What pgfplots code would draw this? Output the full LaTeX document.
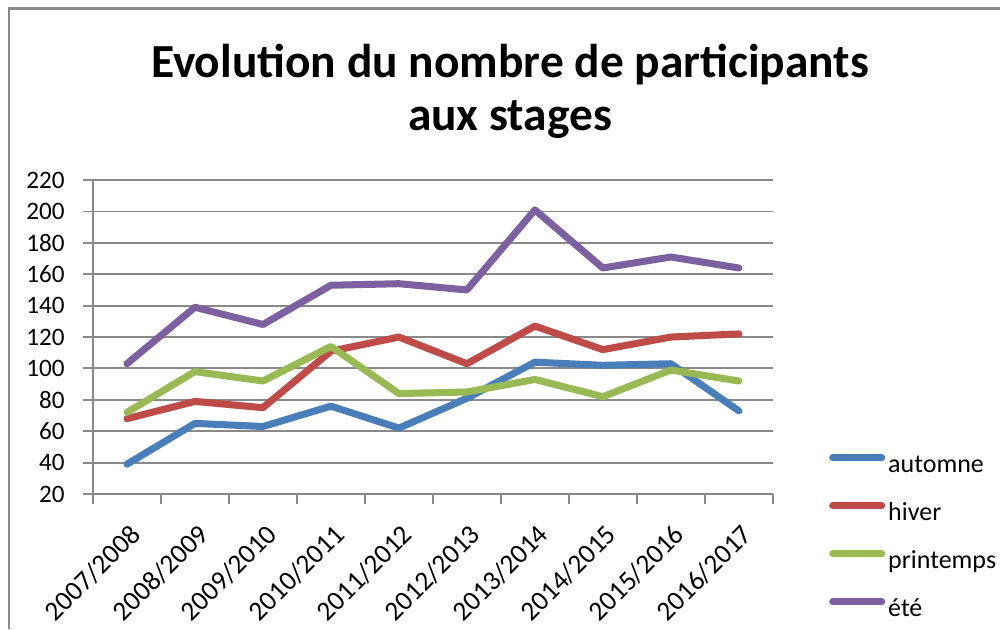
\documentclass[border=0pt]{standalone}
\usepackage{pgfplots}
\pgfplotsset{compat=1.18}
\usepackage{fontspec}
\setmainfont{Carlito}
\definecolor{cauto}{HTML}{4A7EBB}
\definecolor{chiver}{HTML}{BE4B48}
\definecolor{cprint}{HTML}{98B954}
\definecolor{cete}{HTML}{7D60A0}
\definecolor{gridc}{HTML}{898989}
\begin{document}
\begin{tikzpicture}[x=0.02cm,y=0.02cm]
\path[use as bounding box] (0,0) rectangle (1000,629);
\clip (0,0) rectangle (1000,629);
\draw[gridc, line width=1.3pt] (9,0) -- (9,620.5) -- (1000,620.5);
\node[font=\fontsize{27}{30.2}\selectfont\bfseries, align=center, anchor=base] at (510,498)
  {Evolution du nombre de participants\\aux stages};
\begin{axis}[
  at={(1.86cm,2.7cm)}, anchor=south west,
  scale only axis, width=13.6cm, height=6.28cm,
  xmin=0.5, xmax=10.5, ymin=20, ymax=220,
  ytick={20,40,...,220},
  xtick={0.5,1.5,...,10.5},
  x tick label as interval=true,
  xticklabels={2007/2008,2008/2009,2009/2010,2010/2011,2011/2012,2012/2013,2013/2014,2014/2015,2015/2016,2016/2017},
  axis lines*=left,
  axis line style={gridc, line width=1.1pt},
  tick style={gridc, line width=1.1pt},
  major tick length=0.2cm,
  tick align=outside,
  ymajorgrids, grid style={gridc, line width=1.1pt},
  tick label style={font=\fontsize{14.3}{16}\selectfont, text=black},
  /pgf/number format/assume math mode=true,
  yticklabel style={inner sep=0pt, xshift=-0.36cm},
  xticklabel style={font=\fontsize{15.6}{17}\selectfont, rotate=45, anchor=north east, inner sep=0pt, xshift=-0.24cm, yshift=-0.28cm},
  every axis plot/.append style={line width=4pt, line cap=round, line join=round},
  legend image code/.code={\draw[#1] (0cm,0.16cm) -- (0.98cm,0.16cm);},
  legend style={at={(1.0824,0.1274)}, anchor=north west, draw=none, fill=none,
    inner sep=0pt, row sep=0.5cm, column sep=0.06cm,
    font=\fontsize{14.8}{16}\selectfont,
    nodes={inner sep=0pt, text height=0.36cm, text depth=0.1cm}},
  legend cell align=left,
  clip=false,
]
\addplot[cauto] coordinates {(1,39) (2,65) (3,63) (4,76) (5,62) (6,81) (7,104) (8,102) (9,103) (10,73)};
\addlegendentry{automne}
\addplot[chiver] coordinates {(1,68) (2,79) (3,75) (4,111) (5,120) (6,103) (7,127) (8,112) (9,120) (10,122)};
\addlegendentry{hiver}
\addplot[cprint] coordinates {(1,72) (2,98) (3,92) (4,114) (5,84) (6,85) (7,93) (8,82) (9,99) (10,92)};
\addlegendentry{printemps}
\addplot[cete] coordinates {(1,103) (2,139) (3,128) (4,153) (5,154) (6,150) (7,201) (8,164) (9,171) (10,164)};
\addlegendentry{été}
\end{axis}
\end{tikzpicture}
\end{document}
